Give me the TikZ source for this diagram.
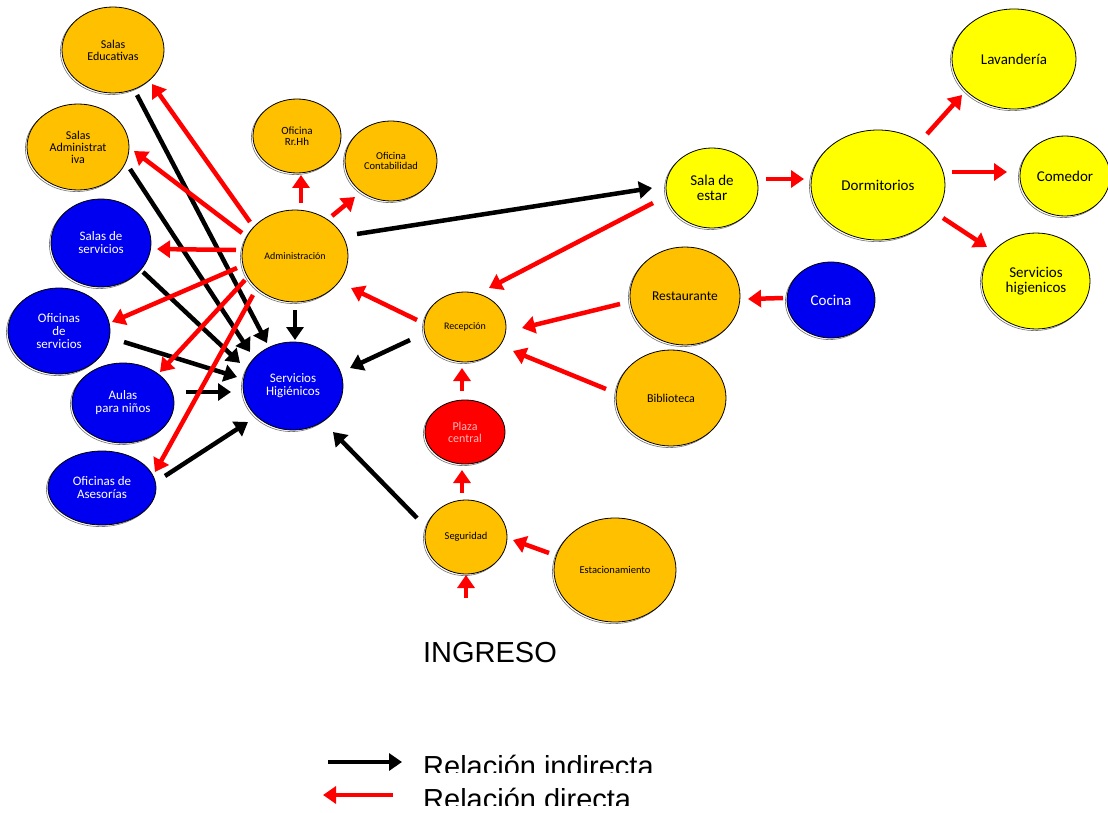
\documentclass[tikz,border=0pt]{standalone}
\usepackage{fontspec}
\setmainfont{Carlito}
\newfontfamily\arialfont{Liberation Sans}
\usetikzlibrary{shapes.geometric,arrows.meta}
\definecolor{cOrange}{HTML}{FFC000}
\definecolor{cYellow}{HTML}{FFFF00}
\definecolor{cBlue}{HTML}{0000F0}
\definecolor{cRed}{HTML}{FF0000}
\definecolor{cPink}{HTML}{FFB8B8}
\tikzset{
  bub/.style={ellipse, draw=black, line width=0.8pt, inner sep=0pt, align=center,
    preaction={draw=black!55, line width=0.6pt, transform canvas={shift={(-1.6pt,-1.6pt)}}}},
  orange/.style={bub, fill=cOrange, text=black},
  yell/.style={bub, fill=cYellow, text=black},
  blu/.style={bub, fill=cBlue, text=white},
  redn/.style={bub, fill=cRed, text=cPink},
  fs/.style={font=\fontsize{#1}{#1}\selectfont},
  arrB/.style={draw=black, line width=4.5pt, -{Triangle[length=13pt,width=17pt]}},
  arrR/.style={draw=cRed, line width=4.5pt, -{Triangle[length=13pt,width=17pt]}},
  bigtxt/.style={font=\arialfont\fontsize{29}{29}\selectfont, inner sep=0pt}
}
\begin{document}
\begin{tikzpicture}[x=1pt,y=-1pt]
\fill[white] (0,0) rectangle (1108,813);
\useasboundingbox (0,0) rectangle (1108,813);

% left cluster
\node[orange, fs=12, minimum width=102pt, minimum height=86pt] (edu) at (113,50) {Salas\\Educativas};
\node[orange, fs=12, minimum width=102pt, minimum height=86pt] (sadm) at (78,147) {Salas\\Administrat\\iva};
\node[blu, fs=13, minimum width=100pt, minimum height=88pt] (sserv) at (101,243) {Salas de\\servicios};
\node[blu, fs=13, minimum width=102pt, minimum height=86pt] (oserv) at (59,331) {Oficinas\\de\\servicios};
\node[blu, fs=13, minimum width=102pt, minimum height=80pt] (aulas) at (123,403) {Aulas\\para niños};
\node[blu, fs=13, minimum width=108pt, minimum height=74pt] (oase) at (102,488) {Oficinas de\\Asesorías};
\node[orange, fs=10, minimum width=106pt, minimum height=92pt] (adm) at (295,256) {Administración};
\node[orange, fs=11, minimum width=88pt, minimum height=74pt] (rrhh) at (297,136) {Oficina\\Rr.Hh};
\node[orange, fs=10.5, minimum width=92pt, minimum height=80pt] (cont) at (391,161) {Oficina\\Contabilidad};
\node[blu, fs=13, minimum width=100pt, minimum height=88pt] (shig) at (293,386) {Servicios\\Higiénicos};

% center
\node[orange, fs=10, minimum width=82pt, minimum height=70pt] (recep) at (465,327) {Recepción};
\node[redn, fs=12, minimum width=80pt, minimum height=64pt] (plaza) at (465,432) {Plaza\\central};
\node[orange, fs=10.5, minimum width=82pt, minimum height=74pt] (seg) at (466,537) {Seguridad};
\node[orange, fs=10.5, minimum width=122pt, minimum height=104pt] (estac) at (615,570) {Estacionamiento};
\node[orange, fs=13.5, minimum width=110pt, minimum height=98pt] (rest) at (685,296) {Restaurante};
\node[blu, fs=15, minimum width=88pt, minimum height=76pt] (cocina) at (831,300) {Cocina};
\node[orange, fs=12, minimum width=110pt, minimum height=96pt] (bib) at (671,398) {Biblioteca};

% right cluster
\node[yell, fs=15, minimum width=92pt, minimum height=80pt] (estar) at (712,188) {Sala de\\estar};
\node[yell, fs=15, minimum width=134pt, minimum height=110pt] (dorm) at (878,185) {Dormitorios};
\node[yell, fs=15, minimum width=124pt, minimum height=100pt] (lav) at (1014,59) {Lavandería};
\node[yell, fs=15, minimum width=90pt, minimum height=80pt] (com) at (1065,176) {Comedor};
\node[yell, fs=15, minimum width=108pt, minimum height=96pt] (shig2) at (1036,281) {Servicios\\higienicos};

\node[bigtxt] (ingreso) at (490,653) {INGRESO};
\coordinate (ingarr) at (466,598);

% black (indirect) arrows
\draw[arrB] ([shift={(24,45)}]edu.center) -- ([shift={(-26,-43)}]shig.center);
\draw[arrB] ([shift={(52,22)}]sadm.center) -- ([shift={(-43,-34)}]shig.center);
\draw[arrB] ([shift={(42,29)}]sserv.center) -- ([shift={(-53,-23)}]shig.center);
\draw[arrB] ([shift={(65,11)}]oserv.center) -- ([shift={(-56,-9)}]shig.center);
\draw[arrB] ([shift={(63,-11)}]aulas.center) -- ([shift={(-62,6)}]shig.center);
\draw[arrB] ([shift={(63,-12)}]oase.center) -- ([shift={(-45,36)}]shig.center);
\draw[arrB] ([shift={(0,54)}]adm.center) -- ([shift={(2,-46)}]shig.center);
\draw[arrB] ([shift={(-55,13)}]recep.center) -- ([shift={(57,-18)}]shig.center);
\draw[arrB] ([shift={(-49,-19)}]seg.center) -- ([shift={(40,46)}]shig.center);
\draw[arrB] ([shift={(62,-22)}]adm.center) -- ([shift={(-60,0)}]estar.center);

% red (direct) arrows
\draw[arrR] ([shift={(-45,-34)}]adm.center) -- ([shift={(39,34)}]edu.center);
\draw[arrR] ([shift={(-53,-23)}]adm.center) -- ([shift={(56,4)}]sadm.center);
\draw[arrR] ([shift={(-59,-6)}]adm.center) -- ([shift={(56,6)}]sserv.center);
\draw[arrR] ([shift={(-58,12)}]adm.center) -- ([shift={(53,-9)}]oserv.center);
\draw[arrR] ([shift={(-50,24)}]adm.center) -- ([shift={(37,-31)}]aulas.center);
\draw[arrR] ([shift={(-42,39)}]adm.center) -- ([shift={(53,-16)}]oase.center);
\draw[arrR] ([shift={(6,-53)}]adm.center) -- ([shift={(4,39)}]rrhh.center);
\draw[arrR] ([shift={(37,-40)}]adm.center) -- ([shift={(-36,36)}]cont.center);
\draw[arrR] ([shift={(-48,-7)}]recep.center) -- ([shift={(56,32)}]adm.center);
\draw[arrR] ([shift={(-59,15)}]estar.center) -- ([shift={(24,-39)}]recep.center);
\draw[arrR] ([shift={(-65,8)}]rest.center) -- ([shift={(57,1)}]recep.center);
\draw[arrR] ([shift={(-48,-2)}]cocina.center) -- ([shift={(63,3)}]rest.center);
\draw[arrR] ([shift={(-65,-9)}]bib.center) -- ([shift={(48,24)}]recep.center);
\draw[arrR] ([shift={(-3,-41)}]plaza.center) -- ([shift={(-3,41)}]recep.center);
\draw[arrR] ([shift={(-4,-44)}]seg.center) -- ([shift={(-3,38)}]plaza.center);
\draw[arrR] (ingarr) -- ([shift={(0,38)}]seg.center);
\draw[arrR] ([shift={(-66,-17)}]estac.center) -- ([shift={(47,3)}]seg.center);
\draw[arrR] ([shift={(54,-9)}]estar.center) -- ([shift={(-74,-6)}]dorm.center);
\draw[arrR] ([shift={(49,-51)}]dorm.center) -- ([shift={(-52,36)}]lav.center);
\draw[arrR] ([shift={(74,-13)}]dorm.center) -- ([shift={(-58,-4)}]com.center);
\draw[arrR] ([shift={(65,33)}]dorm.center) -- ([shift={(-49,-34)}]shig2.center);

% legend
\coordinate (l1a) at (328,762);
\coordinate (l1b) at (402,762);
\coordinate (l2a) at (393,795);
\coordinate (l2b) at (323,795);
\draw[arrB] (l1a) -- (l1b);
\draw[arrR] (l2a) -- (l2b);
\begin{scope}
\clip (410,740) rectangle (700,772);
\node[bigtxt, anchor=base west] (leg1) at (423,776) {Relación indirecta};
\end{scope}
\begin{scope}
\clip (410,780) rectangle (700,805);
\node[bigtxt, anchor=base west] (leg2) at (423,809) {Relación directa};
\end{scope}
\end{tikzpicture}
\end{document}
